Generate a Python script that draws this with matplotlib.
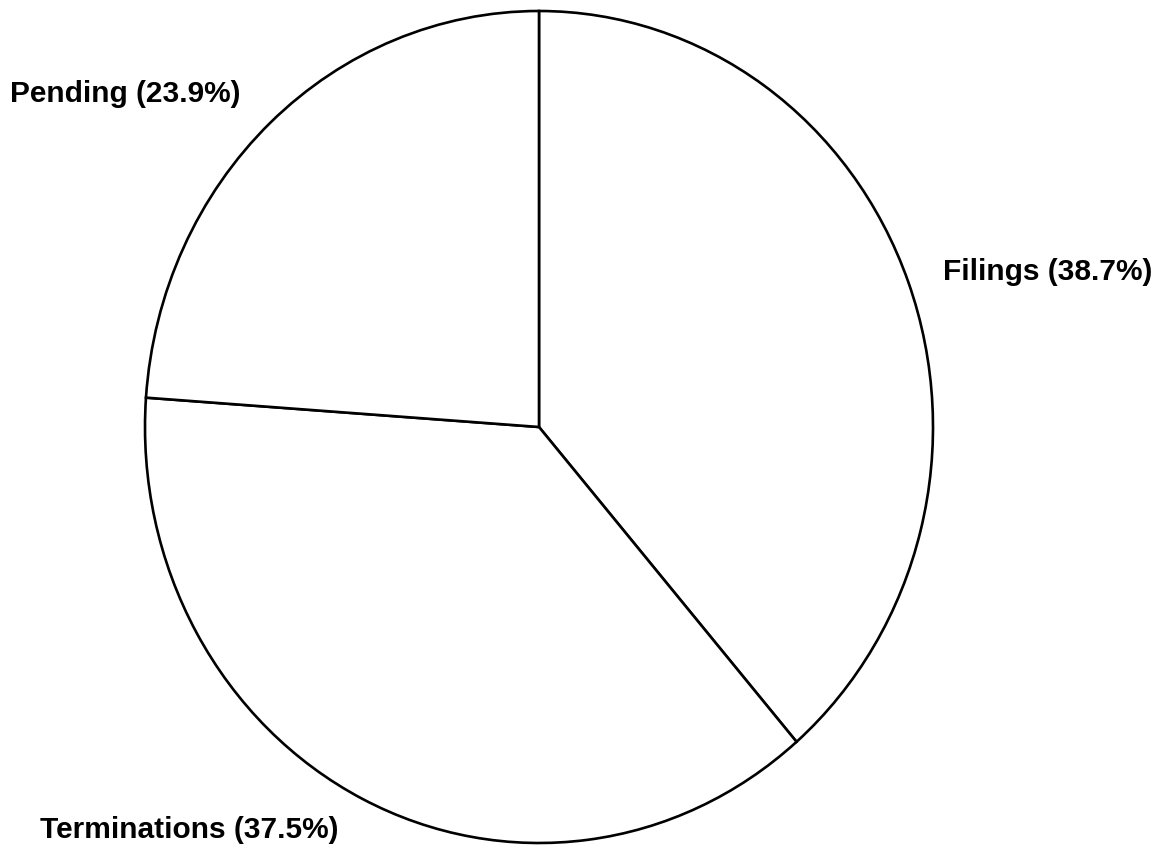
import matplotlib.pyplot as plt

# case counts share for the year
labels = ["Filings", "Terminations", "Pending"]
shares = [38.7, 37.5, 23.9]

W, H = 1162, 849
fig = plt.figure(figsize=(W / 100, H / 100), dpi=100)
ax = fig.add_axes([0, 0, 1, 1])

ax.pie(shares, startangle=90, counterclock=False, radius=1,
       colors=["white"] * len(shares),
       wedgeprops=dict(edgecolor="black", linewidth=1.9))

# pie centre sits at (539, 427) px, radii ~394 px wide / ~416 px tall
cx, cy, rx, ry = 539, 427, 394, 416
ax.set_aspect("auto")
ax.set_xlim(-cx / rx, (W - cx) / rx)
ax.set_ylim(-(H - cy) / ry, cy / ry)
ax.axis("off")

# label anchors (left edge, baseline) in pixels
label_pos = {"Pending": (10, 102), "Filings": (943, 280), "Terminations": (40, 838)}
for name, pct in zip(labels, shares):
    px, py = label_pos[name]
    fig.text(px / W, 1 - py / H, "{} ({}%)".format(name, pct),
             fontsize=21.5, fontweight="bold", family="Liberation Sans",
             ha="left", va="baseline")

fig.savefig("out.png", dpi=100, facecolor="white")
